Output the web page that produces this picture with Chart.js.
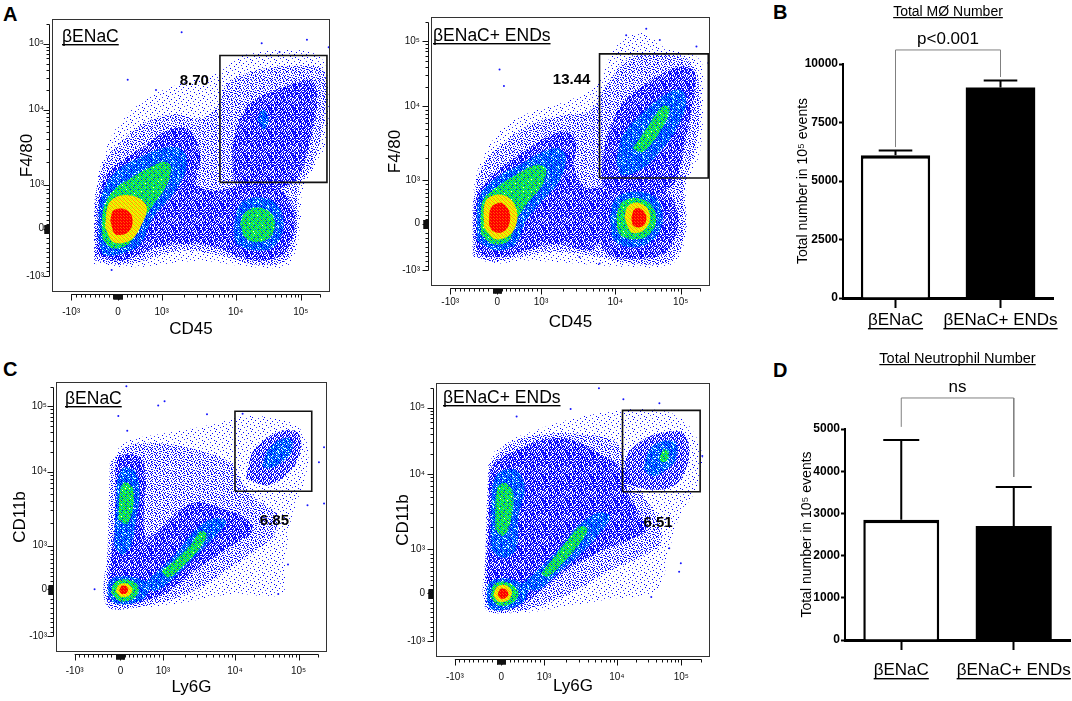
<!DOCTYPE html>
<html><head><meta charset="utf-8">
<script src="https://cdn.jsdelivr.net/npm/chart.js@4.4.1/dist/chart.umd.min.js"></script>
<style>
html,body{margin:0;padding:0;background:#fff;}
body{width:1072px;height:701px;overflow:hidden;position:relative;font-family:'Liberation Sans',Arial,Helvetica,sans-serif;}
canvas{position:absolute;}
.lt{position:absolute;font-weight:bold;font-size:20px;line-height:20px;color:#000;}
</style></head><body>
<div class="lt" style="left:3px;top:4px">A</div>
<div class="lt" style="left:773px;top:2px">B</div>
<div class="lt" style="left:3px;top:359px">C</div>
<div class="lt" style="left:773px;top:360px">D</div>
<canvas id="a1" width="345" height="345" style="left:0px;top:0px"></canvas>
<canvas id="a2" width="350" height="345" style="left:370px;top:0px"></canvas>
<canvas id="c1" width="345" height="356" style="left:0px;top:345px"></canvas>
<canvas id="c2" width="350" height="356" style="left:370px;top:345px"></canvas>
<canvas id="b" width="312" height="350" style="left:760px;top:0px"></canvas>
<canvas id="d" width="312" height="351" style="left:760px;top:350px"></canvas>
<script>
const FF = "'Liberation Sans', Arial, Helvetica, sans-serif";
const NARROW = "'Liberation Sans Narrow','Arial Narrow','Liberation Sans',Arial,sans-serif";

/* ---------- axis ticks of the flow plots (fluorescence units) ---------- */
const MAJOR_VALUES = [-1000, 0, 1000, 10000, 100000];
const MAJOR_LABELS = ['-10³', '0', '10³', '10⁴', '10⁵'];
const MINOR_VALUES = [-900,-800,-700,-600,-500,-400,-300,-200,-100,100,200,300,400,500,600,700,800,900,
  2000,3000,4000,5000,6000,7000,8000,9000,20000,30000,40000,50000,60000,70000,80000,90000,200000];
const ZERO_VALUES = [-100,-90,-80,-70,-60,-50,-40,-30,-20,-10,10,20,30,40,50,60,70,80,90];
const X_RANGE = [-1.52, 4.87];   // display units of the biexponential axis
const Y_RANGE = [-1.44, 4.76];
function biex(v){
  if (v >= 1000) return v <= 10000 ? 1 + 1.7*Math.log10(v/1000) : 2.7 + 1.5*Math.log10(v/10000);
  return v < 0 ? 1.08*v/1000 : v/1000;
}

/* ---------- density regions, in axis display units [x, y] ---------- */
/* A, left: βENaC  (CD45 vs F4/80) */
const A1_SPARSE = [[[-0.57,-0.8],[-0.53,0.79],[-0.34,1.62],[-0.03,2.3],[0.58,2.91],[1.43,3.29],[2.27,3.52],[2.8,3.9],[3.65,4.05],[4.64,3.9],[4.84,2.91],[4.72,1.77],[4.26,0.94],[4.18,0.03],[3.95,-0.8],[3.11,-0.88],[1.89,-0.73],[0.35,-0.88]]];
const A1_MID = [[[-0.55,-0.72],[-0.52,0.7],[-0.33,1.5],[0.1,2.0],[0.6,2.4],[1.3,2.6],[1.9,2.5],[2.3,2.8],[2.5,3.3],[3.2,3.6],[4.0,3.7],[4.7,3.6],[4.75,2.6],[4.5,1.5],[4.15,0.9],[4.12,0.0],[3.9,-0.7],[3.2,-0.82],[2.3,-0.6],[1.5,-0.5],[0.5,-0.75],[0,-0.82]]];
const A1_BLUE = [
  [[-0.49,-0.58],[-0.45,0.64],[-0.26,1.24],[0.2,1.62],[0.58,1.85],[0.97,2.15],[1.43,2.3],[1.73,2.15],[1.89,1.62],[1.81,1.02],[2.19,0.86],[2.65,0.94],[3.11,1.09],[3.65,0.94],[4.03,0.48],[4.03,-0.12],[3.8,-0.58],[3.26,-0.73],[2.8,-0.65],[2.27,-0.42],[1.58,-0.35],[0.89,-0.42],[0.51,-0.58],[0.05,-0.73],[-0.34,-0.65]],
  [[2.65,1.09],[2.65,2.0],[2.96,2.76],[3.42,3.06],[4.03,3.29],[4.49,3.36],[4.57,2.76],[4.41,2.0],[4.18,1.24],[3.8,0.94],[3.11,0.94]]
];
const A1_CYAN = [
  [[-0.45,-0.27],[-0.41,0.64],[-0.11,1.24],[0.5,1.62],[1.12,1.85],[1.5,1.77],[1.58,1.4],[1.27,0.79],[0.81,0.26],[0.51,-0.35],[0.05,-0.58],[-0.34,-0.58]],
  [[2.65,0.03],[2.8,0.56],[3.19,0.71],[3.65,0.56],[3.8,0.03],[3.57,-0.42],[3.19,-0.5],[2.73,-0.35]],
  [[3.2,2.45],[3.3,2.7],[3.42,2.62],[3.45,2.4],[3.35,2.25]]
];
const A1_GREEN = [
  [[-0.38,-0.12],[-0.34,0.45],[-0.1,0.88],[0.3,1.15],[0.7,1.38],[1.05,1.52],[1.22,1.4],[1.1,0.95],[0.78,0.5],[0.45,0.0],[0.25,-0.35],[-0.1,-0.45],[-0.3,-0.32]],
  [[2.8,0.11],[2.92,0.37],[3.19,0.48],[3.49,0.37],[3.61,0.11],[3.49,-0.2],[3.19,-0.31],[2.92,-0.2]]
];
const A1_YELLOW = [[[-0.3,0.03],[-0.22,0.56],[0.05,0.75],[0.43,0.71],[0.66,0.48],[0.51,0.03],[0.28,-0.27],[-0.11,-0.31]]];
const A1_RED = [[[-0.18,0.18],[-0.11,0.41],[0.12,0.45],[0.31,0.3],[0.31,0.03],[0.16,-0.12],[-0.07,-0.12]]];
const A1_DOTS = [[1.46,4.46],[3.3,4.21],[3.71,4.01],[4.34,4.29],[4.84,4.12],[0.22,3.38],[0.87,3.15],[-0.15,-0.94]];
const A1_GATE = [2.34, 4.80, 1.05, 3.93];

/* A, right: βENaC+ ENDs */
const A2_SPARSE = [[[-0.57,-0.77],[-0.54,0.82],[-0.34,1.5],[0.11,2.18],[0.73,2.56],[1.49,2.79],[2.26,3.17],[2.72,4.08],[3.33,4.39],[3.79,4.08],[4.64,3.77],[4.71,2.79],[4.64,1.65],[4.33,0.82],[4.33,-0.24],[4.02,-0.92],[3.03,-1.0],[1.8,-0.92],[0.57,-0.85],[-0.04,-0.92]]];
const A2_MID = [[[-0.55,-0.75],[-0.52,0.75],[-0.3,1.4],[0.2,1.9],[0.8,2.3],[1.5,2.5],[2.1,2.6],[2.5,3.2],[3.0,3.8],[3.6,3.9],[4.4,3.75],[4.65,3.0],[4.55,1.8],[4.3,0.9],[4.3,-0.2],[4.0,-0.85],[3.1,-0.92],[2.2,-0.75],[1.3,-0.65],[0.5,-0.78],[-0.1,-0.88]]];
const A2_BLUE = [
  [[-0.5,-0.55],[-0.5,0.52],[-0.19,1.05],[0.27,1.42],[0.73,1.73],[1.19,2.03],[1.57,2.11],[1.8,1.88],[1.76,1.27],[2.03,0.82],[2.41,0.82],[2.34,-0.39],[2.11,-0.62],[1.34,-0.47],[0.65,-0.62],[0.11,-0.77],[-0.34,-0.73]],
  [[2.34,0.52],[2.57,0.89],[3.18,0.97],[3.79,0.82],[4.1,0.36],[4.1,-0.24],[3.79,-0.7],[3.18,-0.81],[2.57,-0.73],[2.34,-0.39]],
  [[2.41,0.82],[2.41,1.5],[2.57,2.18],[2.87,2.79],[3.33,3.17],[3.79,3.47],[4.25,3.62],[4.52,3.47],[4.48,2.79],[4.33,2.03],[4.18,1.27],[3.95,0.82],[3.33,0.82]]
];
const A2_CYAN = [
  [[-0.46,-0.39],[-0.42,0.59],[-0.04,1.05],[0.5,1.35],[1.03,1.65],[1.42,1.73],[1.57,1.5],[1.42,0.97],[1.03,0.52],[0.65,0.06],[0.42,-0.47],[-0.04,-0.62]],
  [[2.57,0.14],[2.72,0.59],[3.18,0.74],[3.64,0.59],[3.79,0.06],[3.56,-0.39],[3.1,-0.55],[2.68,-0.39]],
  [[2.72,1.42],[2.87,2.03],[3.33,2.56],[3.79,2.94],[4.18,3.09],[4.33,2.79],[4.1,2.18],[3.72,1.65],[3.33,1.27],[2.87,1.12]]
];
const A2_GREEN = [
  [[-0.38,-0.24],[-0.34,0.52],[-0.04,0.82],[0.42,1.12],[0.88,1.35],[1.11,1.27],[1.03,0.89],[0.73,0.52],[0.42,0.06],[0.27,-0.39],[-0.11,-0.47]],
  [[2.72,0.14],[2.84,0.48],[3.18,0.59],[3.52,0.44],[3.64,0.06],[3.45,-0.28],[3.1,-0.36],[2.8,-0.24]],
  [[3.1,1.73],[3.41,2.18],[3.79,2.71],[3.95,2.64],[3.72,2.11],[3.33,1.65]]
];
const A2_YELLOW = [
  [[-0.31,-0.09],[-0.27,0.52],[0.04,0.67],[0.34,0.52],[0.46,0.14],[0.31,-0.24],[-0.04,-0.36]],
  [[2.91,0.14],[2.99,0.4],[3.22,0.48],[3.45,0.33],[3.49,0.06],[3.33,-0.17],[3.07,-0.2]]
];
const A2_RED = [
  [[-0.19,-0.02],[-0.15,0.36],[0.08,0.48],[0.27,0.29],[0.27,-0.02],[0.11,-0.2],[-0.11,-0.17]],
  [[3.07,0.14],[3.14,0.33],[3.3,0.33],[3.41,0.17],[3.37,-0.02],[3.22,-0.09],[3.1,-0.03]]
];
const A2_DOTS = [[0.05,3.55],[0.15,3.17],[3.41,4.49],[2.95,4.34],[3.72,4.23],[1.88,-0.77],[2.34,-0.92],[4.56,4.08],[4.83,3.7]];
const A2_GATE = [2.34, 4.83, 1.05, 3.91];

/* C, left: βENaC  (Ly6G vs CD11b) */
const C1_SPARSE = [[[-0.34,-0.42],[-0.3,0.57],[-0.18,2.08],[-0.11,2.99],[0.05,3.37],[0.66,3.52],[1.58,3.67],[2.34,3.83],[2.96,3.98],[4.03,3.83],[4.41,3.37],[4.34,2.46],[4.03,1.63],[3.88,0.57],[3.8,-0.11],[2.65,-0.11],[1.27,-0.34],[0.51,-0.42]]];
const C1_MID = [[[-0.25,2.9],[0.2,3.3],[1.0,3.35],[1.8,3.2],[2.6,2.9],[2.9,2.4],[3.3,2.0],[3.7,1.7],[3.6,1.2],[3.2,0.9],[2.6,0.5],[2.0,0.1],[1.3,-0.2],[0.6,-0.38],[-0.32,-0.38],[-0.3,1.0]]];
const C1_BLUE = [
  [[-0.3,-0.27],[-0.26,0.42],[-0.15,1.33],[-0.11,2.31],[-0.07,2.99],[0.2,3.1],[0.5,3.0],[0.6,2.5],[0.55,1.8],[0.6,1.2],[0.9,1.35],[1.3,1.75],[1.8,2.0],[2.4,1.85],[2.96,1.63],[3.11,1.33],[2.65,1.02],[2.19,0.72],[1.73,0.42],[1.27,0.04],[0.81,-0.19],[0.2,-0.34]],
  [[2.96,2.54],[3.11,3.14],[3.42,3.45],[3.8,3.64],[4.18,3.6],[4.26,3.29],[4.11,2.84],[3.8,2.54],[3.42,2.39]]
];
const C1_CYAN = [
  [[-0.15,1.0],[-0.1,2.0],[-0.05,2.6],[0.1,2.8],[0.35,2.7],[0.45,2.2],[0.35,1.5],[0.25,1.0],[0.05,0.8]],
  [[0.51,0.11],[0.89,0.42],[1.35,0.87],[1.73,1.33],[2.19,1.63],[2.5,1.55],[2.19,1.17],[1.73,0.72],[1.27,0.27],[0.81,-0.04]],
  [[-0.3,-0.11],[-0.26,0.19],[-0.03,0.3],[0.35,0.27],[0.66,0.11],[0.58,-0.19],[0.2,-0.34],[-0.18,-0.3]],
  [[3.34,2.84],[3.49,3.22],[3.8,3.45],[4.03,3.45],[4.03,3.14],[3.8,2.92],[3.49,2.77]]
];
const C1_GREEN = [
  [[-0.05,1.6],[0.0,2.31],[0.12,2.46],[0.3,2.3],[0.28,1.8],[0.15,1.5]],
  [[0.97,0.42],[1.35,0.72],[1.66,1.02],[1.89,1.33],[2.04,1.25],[1.81,0.87],[1.43,0.49],[1.12,0.27]],
  [[-0.22,-0.08],[-0.15,0.15],[0.08,0.23],[0.35,0.15],[0.43,-0.04],[0.28,-0.23],[-0.03,-0.27]]
];
const C1_YELLOW = [[[-0.11,-0.04],[-0.03,0.11],[0.16,0.13],[0.28,0],[0.2,-0.15],[0.01,-0.17]]];
const C1_RED = [[[-0.03,-0.02],[0.03,0.08],[0.14,0.07],[0.18,-0.02],[0.12,-0.1],[0.02,-0.1]]];
const C1_DOTS = [[0.14,4.66],[0.89,4.22],[1.04,4.32],[-0.05,3.98],[0.16,3.64],[2.04,4.02],[2.88,4.03],[4.8,3.26],[4.68,2.92],[4.8,1.97],[-0.61,0],[3.95,0.57],[3.72,-0.11],[4.41,1.93]];
const C1_GATE = [2.70, 4.51, 2.25, 4.09];

/* C, right: βENaC+ ENDs */
const C2_SPARSE = [[[-0.37,-0.38],[-0.37,0.68],[-0.33,2.2],[-0.21,3.11],[0.09,3.41],[0.86,3.71],[1.62,3.94],[2.39,4.09],[3.16,4.17],[3.92,4.09],[4.38,3.79],[4.69,3.11],[4.54,2.35],[4.16,1.74],[3.92,0.98],[3.62,0.08],[2.39,-0.15],[1.01,-0.38],[0.25,-0.45]]];
const C2_MID = [[[-0.3,2.9],[0.2,3.4],[1.0,3.6],[1.9,3.6],[2.7,3.4],[3.0,2.6],[3.4,2.1],[3.7,1.6],[3.7,1.1],[3.2,0.8],[2.5,0.5],[1.8,0.1],[1.0,-0.25],[0.3,-0.42],[-0.36,-0.35],[-0.36,1.0]]];
const C2_BLUE = [
  [[-0.33,-0.23],[-0.33,0.68],[-0.29,1.82],[-0.25,2.8],[-0.06,3.03],[0.4,3.26],[1.01,3.48],[1.62,3.48],[2.39,3.11],[2.85,2.8],[2.93,2.35],[3.16,1.89],[3.39,1.44],[3.0,1.21],[2.39,0.98],[1.78,0.68],[1.32,0.38],[0.86,0],[0.4,-0.3],[-0.06,-0.38]],
  [[2.85,2.5],[2.93,3.11],[3.31,3.48],[3.77,3.64],[4.23,3.64],[4.38,3.33],[4.31,2.8],[4.0,2.42],[3.46,2.35]]
];
const C2_CYAN = [
  [[-0.25,1.0],[-0.21,2.35],[-0.06,2.73],[0.32,2.8],[0.55,2.42],[0.4,1.74],[0.35,1.0],[0.05,0.8]],
  [[0.4,0.15],[0.86,0.53],[1.32,0.98],[1.78,1.52],[2.24,1.82],[2.54,1.74],[2.24,1.29],[1.78,0.83],[1.32,0.45],[0.86,0.08]],
  [[-0.33,-0.15],[-0.29,0.23],[0.02,0.34],[0.4,0.27],[0.63,0.08],[0.47,-0.23],[0.02,-0.38],[-0.25,-0.34]],
  [[3.31,2.8],[3.46,3.26],[3.77,3.45],[4.08,3.41],[4.08,3.03],[3.85,2.8],[3.54,2.65]]
];
const C2_GREEN = [
  [[-0.14,1.44],[-0.1,2.35],[0.09,2.5],[0.28,2.27],[0.21,1.59],[0.05,1.3]],
  [[0.93,0.45],[1.24,0.83],[1.55,1.21],[1.85,1.52],[2.01,1.44],[1.78,1.06],[1.43,0.68],[1.09,0.38]],
  [[-0.25,-0.08],[-0.18,0.19],[0.05,0.27],[0.32,0.15],[0.4,-0.04],[0.25,-0.23],[-0.06,-0.27]],
  [[3.7,3.11],[3.8,3.26],[3.92,3.18],[3.85,2.99],[3.71,2.99]]
];
const C2_YELLOW = [[[-0.18,-0.04],[-0.1,0.15],[0.09,0.19],[0.25,0.04],[0.17,-0.15],[-0.06,-0.19]]];
const C2_RED = [[[-0.08,-0.02],[-0.02,0.1],[0.11,0.09],[0.17,-0.02],[0.09,-0.11],[-0.02,-0.11]]];
const C2_DOTS = [[2.28,4.64],[2.85,4.39],[3.69,4.3],[0.36,4.0],[1.62,4.17],[4.69,3.11],[4.19,0.68],[4.15,0.49],[3.5,-0.08],[3.92,1.02],[3.16,0.95]];
const C2_GATE = [2.83, 4.64, 2.30, 4.14];

/* ---------- bar charts ---------- */
const GROUPS = ['βENaC', 'βENaC+ ENDs'];
const B_MEAN = [6100, 9000];
const B_ERR  = [200, 290];
const B_BRACKET = [6450, 10600, 9450];   // left foot, top, right foot
const D_MEAN = [2850, 2700];
const D_ERR  = [1890, 925];
const D_BRACKET = [5050, 5735, 3865];
const BAR_FILL = ['#ffffff', '#000000'];

/* ---------- styles: dot patterns ---------- */
function makePattern(rows, colors){
  const c = document.createElement('canvas');
  c.width = rows[0].length; c.height = rows.length;
  const g = c.getContext('2d');
  rows.forEach((r, y) => { for (let x = 0; x < r.length; x++) { const col = colors[r[x]]; if (col) { g.fillStyle = col; g.fillRect(x, y, 1, 1); } } });
  return g.createPattern(c, 'repeat');
}
const PAT = {
  sparse: makePattern([
    "b...........",
    "......l.....",
    "...........b",
    "...b........",
    "........b...",
    ".l..........",
    "......b.....",
    "..........l.",
    "..b.........",
    ".......b....",
    "....l.......",
    "..........b."], {b:'#0000ff', l:'#3c3cff'}),
  mid: makePattern([
    "b..l..b.",
    "....b...",
    ".b.....l",
    "...b.b..",
    "l......b",
    "..b.l...",
    "b....b..",
    "...l...b"], {b:'#0000ff', l:'#3232ff'}),
  blue: makePattern([
    "b.b.bl",
    ".b..Lb",
    "bl.b..",
    "..bL.b",
    ".b.b.l",
    "Lb..b."], {b:'#0000ff', L:'#1e1ee6', l:'#4646ff'}),
  cyan: makePattern([
    "cb.Cb",
    "b.c.c",
    "Cbc.b",
    ".cbC.",
    "b.cbc"], {c:'#00b4ff', C:'#00eaff', b:'#0000ff'}),
  green: makePattern([
    "gGgc",
    "cg.g",
    "gcgG",
    "G.cg"], {g:'#00dc3c', G:'#64ff00', c:'#00dcb4'}),
  yellow: makePattern([
    "yoyG",
    "yyoy",
    "Gyyo",
    "oyGy"], {y:'#ffee00', o:'#ffa000', G:'#b4ff00'}),
  red: makePattern([
    "ror",
    "rrr",
    "orr"], {r:'#ff0000', o:'#ff5a00'})
};

/* ---------- plugins ---------- */
function textPlugin(items){
  return { id:'texts', afterDraw(chart){
    const {ctx, chartArea:a} = chart;
    items.forEach(it => {
      const x = it.xv !== undefined ? chart.scales[it.xs || 'x'].getPixelForValue(it.xv) : a.left + it.ax;
      const y = it.yv !== undefined ? chart.scales[it.ys || 'y'].getPixelForValue(it.yv) : (it.ay !== undefined ? a.top + it.ay : it.py);
      ctx.save();
      ctx.font = it.font; ctx.fillStyle = '#000';
      ctx.textAlign = it.align || 'left'; ctx.textBaseline = it.base || 'alphabetic';
      ctx.fillText(it.text, x, y);
      if (it.ul !== undefined) {
        const w = ctx.measureText(it.text).width;
        const x0 = (it.align === 'center') ? x - w/2 : x;
        ctx.fillRect(x0, y + it.ul, w, it.ulw || 1.4);
      }
      ctx.restore();
    });
  }};
}
const flowFrame = { id:'flowFrame', afterDraw(chart){
  const {ctx, chartArea:a, scales:{x, y}} = chart;
  ctx.save();
  ctx.strokeStyle = '#333'; ctx.lineWidth = 1;
  ctx.strokeRect(a.left + 0.5, a.top + 0.5, a.right - a.left - 1, a.bottom - a.top - 1);
  ctx.strokeStyle = '#111';
  const groups = [[MAJOR_VALUES, 6], [MINOR_VALUES, 3], [ZERO_VALUES, 5]];
  const sx = a.left - 2.5;
  let yTop = y.getPixelForValue(biex(100000)), yBot = y.getPixelForValue(biex(-1000));
  ctx.beginPath();
  groups.forEach(([vals, len]) => vals.forEach(v => {
    const t = biex(v); if (t < Y_RANGE[0] || t > Y_RANGE[1]) return;
    const p = Math.round(y.getPixelForValue(t)) + 0.5; yTop = Math.min(yTop, p);
    ctx.moveTo(sx, p); ctx.lineTo(sx - len, p);
  }));
  ctx.moveTo(sx, yTop); ctx.lineTo(sx, yBot);
  ctx.stroke();
  const sy = a.bottom + 2.5;
  let xL = x.getPixelForValue(biex(-1000)), xR = x.getPixelForValue(biex(100000));
  ctx.beginPath();
  groups.forEach(([vals, len]) => vals.forEach(v => {
    const t = biex(v); if (t < X_RANGE[0] || t > X_RANGE[1]) return;
    const p = Math.round(x.getPixelForValue(t)) + 0.5; xR = Math.max(xR, p);
    ctx.moveTo(p, sy); ctx.lineTo(p, sy + len);
  }));
  ctx.moveTo(xL, sy); ctx.lineTo(xR, sy);
  ctx.stroke();
  ctx.restore();
}};

/* ---------- flow plot factory ---------- */
function closeLoop(p){ return p.concat([p[0]]).map(([x, y]) => ({x, y})); }
function flowChart(id, d, L, texts){
  const levels = [[d.sparse, PAT.sparse], [d.mid, PAT.mid], [d.blue, PAT.blue], [d.cyan, PAT.cyan], [d.green, PAT.green], [d.yellow, PAT.yellow], [d.red, PAT.red]];
  const datasets = [];
  let order = 30;
  levels.forEach(([polys, pat]) => {
    polys.forEach(p => datasets.push({data: closeLoop(p), fill:'shape', backgroundColor: pat, borderColor:'rgba(0,0,0,0)', borderWidth:0, pointRadius:0, tension:0.35, order}));
    order--;
  });
  datasets.push({data: d.dots.map(([x, y]) => ({x, y})), showLine:false, pointRadius:1, pointBackgroundColor:'#1414ff', pointBorderWidth:0, order:2});
  const g = d.gate;
  datasets.push({data:[{x:g[0],y:g[2]},{x:g[1],y:g[2]},{x:g[1],y:g[3]},{x:g[0],y:g[3]},{x:g[0],y:g[2]}], fill:false, borderColor:'#111', borderWidth:1.6, pointRadius:0, tension:0, order:1});
  const tickFont = {family:FF, size:10};
  return new Chart(document.getElementById(id), {
    type:'line',
    data:{datasets},
    options:{
      responsive:false, animation:false, events:[],
      layout:{padding:{top:L.top, right:L.right, left:0, bottom:0}},
      plugins:{legend:{display:false}, tooltip:{enabled:false}},
      scales:{
        x:{type:'linear', min:X_RANGE[0], max:X_RANGE[1],
          afterBuildTicks:s => { s.ticks = MAJOR_VALUES.map(v => ({value: biex(v)})); },
          afterFit:s => { s.height = L.xh; },
          grid:{display:false, drawTicks:false}, border:{display:false},
          ticks:{autoSkip:false, maxRotation:0, padding:L.xtp, font:tickFont, color:'#111', callback:(v, i) => MAJOR_LABELS[i]},
          title:{display:true, text:d.xTitle, font:{family:FF, size:17}, color:'#000', padding:{top:0, bottom:L.xtt}}},
        y:{type:'linear', min:Y_RANGE[0], max:Y_RANGE[1],
          afterBuildTicks:s => { s.ticks = MAJOR_VALUES.map(v => ({value: biex(v)})); },
          afterFit:s => { s.width = L.yw; },
          grid:{display:false, drawTicks:false}, border:{display:false},
          ticks:{autoSkip:false, padding:L.ytp, font:tickFont, color:'#111', callback:(v, i) => MAJOR_LABELS[i]},
          title:{display:true, text:d.yTitle, font:{family:FF, size:17}, color:'#000', padding:{top:L.ytt, bottom:0}}}
      }
    },
    plugins:[flowFrame, textPlugin(texts)]
  });
}

flowChart('a1', {sparse:A1_SPARSE, mid:A1_MID, blue:A1_BLUE, cyan:A1_CYAN, green:A1_GREEN, yellow:A1_YELLOW, red:A1_RED, dots:A1_DOTS, gate:A1_GATE, xTitle:'CD45', yTitle:'F4/80'},
  {top:19, right:15, xh:53, yw:52, xtp:14, ytp:8, xtt:5.8, ytt:16.8},
  [{text:'βENaC', font:`17.5px ${FF}`, ax:10, ay:23, ul:2},
   {text:'8.70', font:`bold 15px ${FF}`, xv:1.75, yv:3.36, align:'center', base:'middle'}]);
flowChart('a2', {sparse:A2_SPARSE, mid:A2_MID, blue:A2_BLUE, cyan:A2_CYAN, green:A2_GREEN, yellow:A2_YELLOW, red:A2_RED, dots:A2_DOTS, gate:A2_GATE, xTitle:'CD45', yTitle:'F4/80'},
  {top:13, right:10, xh:59, yw:61, xtp:10, ytp:11, xtt:12.8, ytt:14.8},
  [{text:'βENaC+ ENDs', font:`17.5px ${FF}`, ax:2, ay:24, ul:2},
   {text:'13.44', font:`bold 15px ${FF}`, xv:1.70, yv:3.30, align:'center', base:'middle'}]);
flowChart('c1', {sparse:C1_SPARSE, mid:C1_MID, blue:C1_BLUE, cyan:C1_CYAN, green:C1_GREEN, yellow:C1_YELLOW, red:C1_RED, dots:C1_DOTS, gate:C1_GATE, xTitle:'Ly6G', yTitle:'CD11b'},
  {top:37, right:18, xh:49, yw:56, xtp:13, ytp:9, xtt:3.8, ytt:9.8},
  [{text:'βENaC', font:`17.5px ${FF}`, ax:9, ay:22, ul:2},
   {text:'6.85', font:`bold 15px ${FF}`, xv:3.63, yv:1.57, align:'center', base:'middle'}]);
flowChart('c2', {sparse:C2_SPARSE, mid:C2_MID, blue:C2_BLUE, cyan:C2_CYAN, green:C2_GREEN, yellow:C2_YELLOW, red:C2_RED, dots:C2_DOTS, gate:C2_GATE, xTitle:'Ly6G', yTitle:'CD11b'},
  {top:38, right:10, xh:44, yw:66, xtp:14, ytp:11, xtt:4.8, ytt:22.8},
  [{text:'βENaC+ ENDs', font:`17.5px ${FF}`, ax:7, ay:20, ul:2},
   {text:'6.51', font:`bold 15px ${FF}`, xv:3.66, yv:1.59, align:'center', base:'middle'}]);

/* ---------- bar chart factory ---------- */
const CAP = 0.16;
function errData(mean, err){
  const out = [];
  mean.forEach((m, i) => {
    const top = m + err[i];
    out.push({x:i, y:m}, {x:i, y:top}, {x:i, y:null}, {x:i - CAP, y:top}, {x:i + CAP, y:top}, {x:i, y:null});
  });
  return out;
}
function barChart(id, mean, err, br, L, texts){
  return new Chart(document.getElementById(id), {
    type:'bar',
    data:{labels:GROUPS, datasets:[
      {data:mean, backgroundColor:BAR_FILL, borderColor:'#000', borderWidth:[{top:3.5, left:2.5, right:2.5, bottom:0}, 0], barPercentage:L.bp, categoryPercentage:1, grouped:false, order:3},
      {type:'line', xAxisID:'x2', data:errData(mean, err), borderColor:'#000', borderWidth:2, pointRadius:0, spanGaps:false, fill:false, order:1, clip:false},
      {type:'line', xAxisID:'x2', data:[{x:0,y:br[0]},{x:0,y:br[1]},{x:1,y:br[1]},{x:1,y:br[2]}], borderColor:'#808080', borderWidth:1, pointRadius:0, fill:false, order:1, clip:false}
    ]},
    options:{
      responsive:false, animation:false, events:[],
      layout:{padding:{top:L.top, right:L.right, left:0, bottom:0}},
      plugins:{legend:{display:false}, tooltip:{enabled:false}},
      scales:{
        x:{type:'category', offset:true, afterFit:s => { s.height = L.xh; },
          grid:{display:true, drawOnChartArea:false, offset:false, tickLength:10, tickWidth:2, tickColor:'#000'},
          border:{display:true, width:3, color:'#000'}, ticks:{display:false}},
        x2:{type:'linear', min:-0.5, max:1.5, offset:false, display:false, grid:{offset:false}},
        y:{min:0, max:L.max, afterFit:s => { s.width = L.yw; },
          ticks:{stepSize:L.step, padding:1, color:'#000', font:{family:NARROW, size:12, weight:'bold'}, callback:v => String(v)},
          grid:{display:true, drawOnChartArea:false, tickLength:4, tickWidth:2, tickColor:'#000'},
          border:{display:true, width:2, color:'#000'},
          title:{display:true, text:'Total number in 10⁵ events', color:'#000', font:{family:FF, size:14}, padding:{top:L.ytt, bottom:0}}}
      }
    },
    plugins:[textPlugin(texts)]
  });
}
barChart('b', B_MEAN, B_ERR, B_BRACKET,
  {top:64, right:19, xh:52, yw:83, bp:0.66, max:10000, step:2500, ytt:34.6},
  [{text:'Total MØ Number', font:`14px ${FF}`, xs:'x2', xv:0.5, py:12, align:'center', base:'middle', ul:5, ulw:1.2},
   {text:'p<0.001', font:`17px ${FF}`, xs:'x2', xv:0.5, py:39, align:'center', base:'middle'},
   {text:GROUPS[0], font:`17px ${FF}`, xs:'x2', xv:0, py:320, align:'center', base:'middle', ul:8},
   {text:GROUPS[1], font:`17px ${FF}`, xs:'x2', xv:1, py:320, align:'center', base:'middle', ul:8}]);
barChart('d', D_MEAN, D_ERR, D_BRACKET,
  {top:79, right:2, xh:61, yw:85, bp:0.675, max:5000, step:1000, ytt:38.6},
  [{text:'Total Neutrophil Number', font:`14.5px ${FF}`, xs:'x2', xv:0.5, py:9, align:'center', base:'middle', ul:5, ulw:1.2},
   {text:'ns', font:`17px ${FF}`, xs:'x2', xv:0.5, py:37, align:'center', base:'middle'},
   {text:GROUPS[0], font:`17px ${FF}`, xs:'x2', xv:0, py:320, align:'center', base:'middle', ul:8},
   {text:GROUPS[1], font:`17px ${FF}`, xs:'x2', xv:1, py:320, align:'center', base:'middle', ul:8}]);
</script>
</body></html>
